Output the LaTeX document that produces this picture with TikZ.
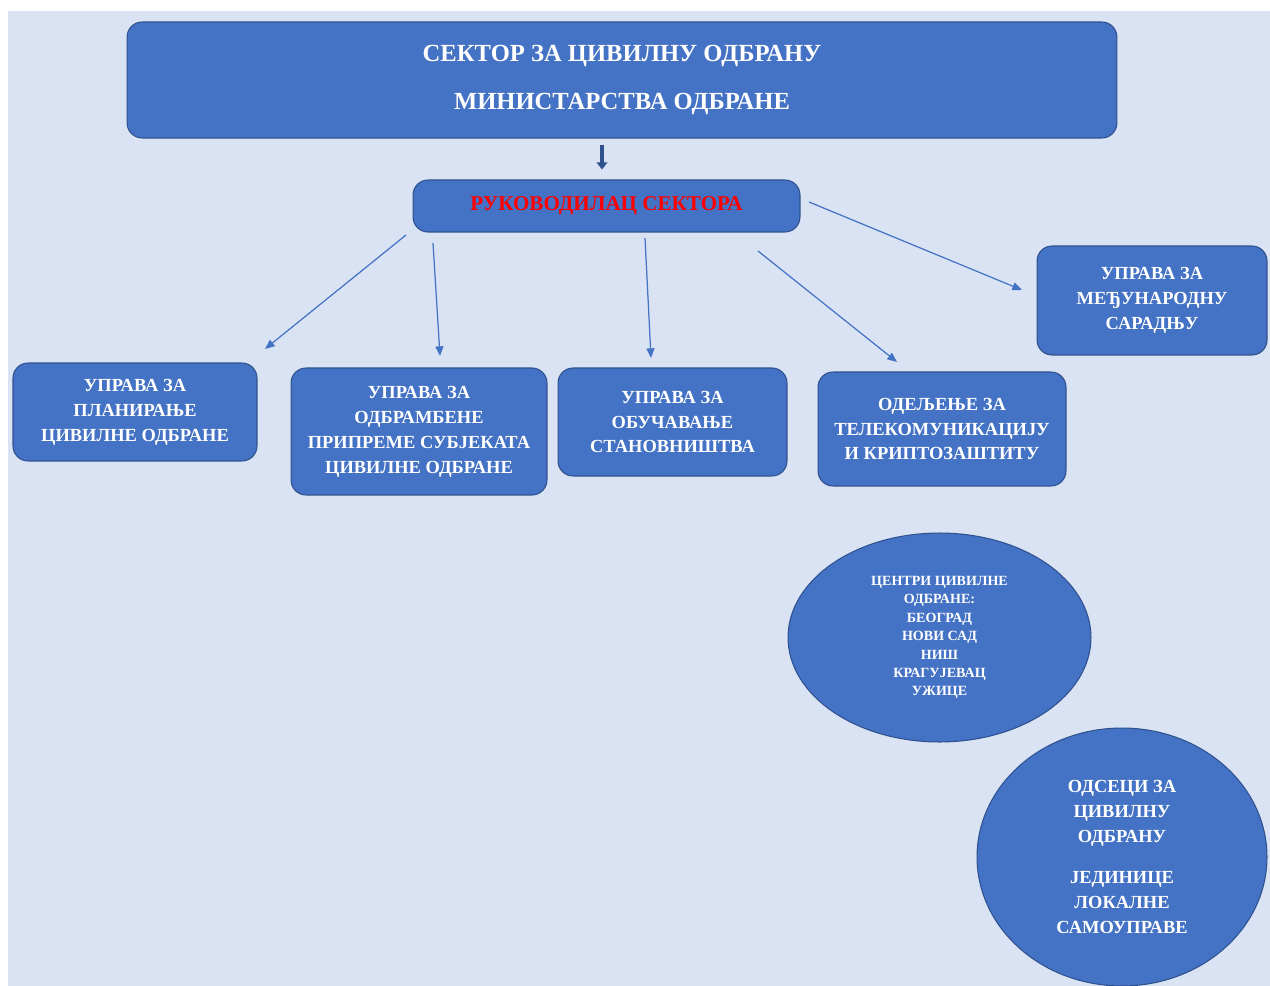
\documentclass[tikz,border=0pt]{standalone}
\usepackage{fontspec}
\setmainfont{Liberation Serif}
\usepackage{tikz}
\usetikzlibrary{shapes, arrows.meta, positioning}

\definecolor{pozadina}{HTML}{DAE3F3}
\definecolor{plava}{HTML}{4472C4}
\definecolor{ivica}{HTML}{2F528F}

\begin{document}
\begin{tikzpicture}[x=0.02cm, y=-0.02cm,
    jedinica/.style={draw=ivica, line width=0.6pt, fill=plava, rounded corners=0.3cm,
        text=white, align=center, inner sep=0pt,
        font=\bfseries\fontsize{10.5}{14.2}\selectfont},
    centar/.style={draw=ivica, line width=0.6pt, fill=plava, ellipse,
        text=white, align=center, inner sep=0pt},
    veza/.style={draw=plava, line width=0.7pt, -{Triangle[length=5.5pt, width=4.5pt]}},
    glavna/.style={draw=ivica, line width=2.2pt, -{Triangle[length=4pt, width=6pt]}}]
    \useasboundingbox (0,0) rectangle (1270,986);
    \fill[pozadina] (8,11) rectangle (1270,986);

    % vrh
    \node[jedinica, minimum width=19.8cm, minimum height=2.32cm,
        font=\bfseries\fontsize{14}{27}\selectfont] (sektor) at (622,80)
        {СЕКТОР ЗА ЦИВИЛНУ ОДБРАНУ\\МИНИСТАРСТВА ОДБРАНЕ};
    \node[jedinica, minimum width=7.74cm, minimum height=1.04cm, text=red,
        font=\bfseries\fontsize{12}{14.2}\selectfont] (rukovodilac)
        at (606.5,206) {РУКОВОДИЛАЦ СЕКТОРА};

    % управе
    \node[jedinica, minimum width=4.88cm, minimum height=1.96cm] (planiranje) at (135,412)
        {УПРАВА ЗА\\ПЛАНИРАЊЕ\\ЦИВИЛНЕ ОДБРАНЕ};
    \node[jedinica, minimum width=5.12cm, minimum height=2.54cm] (pripreme) at (419,431.5)
        {УПРАВА ЗА\\ОДБРАМБЕНЕ\\ПРИПРЕМЕ СУБЈЕКАТА\\ЦИВИЛНЕ ОДБРАНЕ};
    \node[jedinica, minimum width=4.58cm, minimum height=2.16cm] (obucavanje) at (672.5,422)
        {УПРАВА ЗА\\ОБУЧАВАЊЕ\\СТАНОВНИШТВА};
    \node[jedinica, minimum width=4.96cm, minimum height=2.28cm] (telekom) at (942,429)
        {ОДЕЉЕЊЕ ЗА\\ТЕЛЕКОМУНИКАЦИЈУ\\И КРИПТОЗАШТИТУ};
    \node[jedinica, minimum width=4.6cm, minimum height=2.18cm] (saradnja) at (1152,300.5)
        {УПРАВА ЗА\\МЕЂУНАРОДНУ\\САРАДЊУ};

    % центри и одсеци
    \node[centar, minimum width=6.06cm, minimum height=4.18cm,
        font=\bfseries\fontsize{8}{10.5}\selectfont] (centri) at (939.5,637.5)
        {ЦЕНТРИ ЦИВИЛНЕ\\ОДБРАНЕ:\\БЕОГРАД\\НОВИ САД\\НИШ\\КРАГУЈЕВАЦ\\УЖИЦЕ};
    \node[centar, minimum width=5.8cm, minimum height=5.16cm,
        font=\bfseries\fontsize{10.5}{14.2}\selectfont] (odseci) at (1122,857)
        {ОДСЕЦИ ЗА\\ЦИВИЛНУ\\ОДБРАНУ\\[9pt]ЈЕДИНИЦЕ\\ЛОКАЛНЕ\\САМОУПРАВЕ};

    % стрелице
    \coordinate (vrh) at (602,145);
    \draw[glavna, shorten >=5.7pt] (vrh) -- (vrh |- rukovodilac.north);

    \coordinate (r1) at (406,235);
    \coordinate (r2) at (433,243);
    \coordinate (r3) at (645,238);
    \coordinate (r4) at (758,251);
    \coordinate (r5) at (809,202);
    \coordinate (k1) at (265,349);
    \coordinate (k2) at (440,356);
    \coordinate (k3) at (651,358);
    \coordinate (k4) at (897,362);
    \coordinate (k5) at (1022,290);
    \draw[veza] (r1) -- (k1);
    \draw[veza] (r2) -- (k2);
    \draw[veza] (r3) -- (k3);
    \draw[veza] (r4) -- (k4);
    \draw[veza] (r5) -- (k5);
\end{tikzpicture}
\end{document}
